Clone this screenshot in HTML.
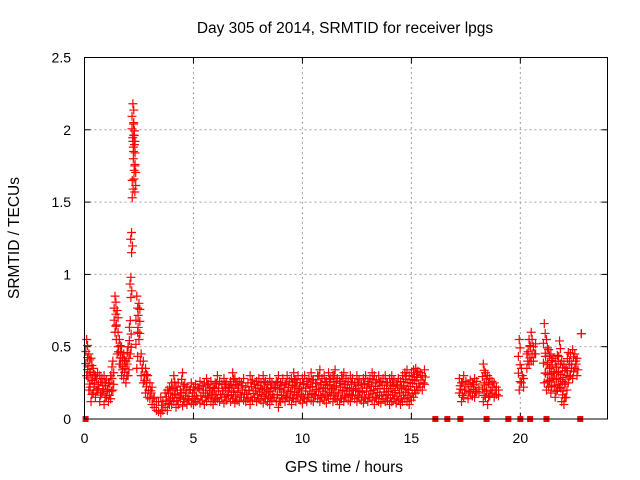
<!DOCTYPE html>
<html><head><meta charset="utf-8"><style>
html,body{margin:0;padding:0;background:#fff;}
svg{display:block;font-family:"Liberation Sans",sans-serif;}
</style></head><body>
<svg id="chart" width="640" height="480" viewBox="0 0 640 480" xmlns="http://www.w3.org/2000/svg">
<rect width="640" height="480" fill="#fff"/>
<text x="345" y="33" font-size="15.5" text-anchor="middle" fill="#000">Day 305 of 2014, SRMTID for receiver lpgs</text>
<g id="grid"></g>
<g id="ticks"></g>
<g id="marks"></g>
<rect x="84.5" y="57.5" width="523" height="361.5" fill="none" stroke="#000" stroke-width="1"/>
<text x="344" y="472" font-size="15.5" text-anchor="middle">GPS time / hours</text>
<text transform="translate(19,238) rotate(-90)" font-size="15.5" text-anchor="middle">SRMTID / TECUs</text>
</svg>
<script>
const xTicks=[0,5,10,15,20];
const yTicks=[0,0.5,1,1.5,2,2.5];
const yTickLabels=["0","0.5","1","1.5","2","2.5"];
const hours=[0.1,0.2,0.3,0.4,0.5,0.6,0.7,0.8,0.9,1.0,1.1,1.2,1.3,
1.4,1.5,1.6,1.7,1.8,1.9,2.0,
2.1,2.13,2.16,2.19,2.22,2.25,2.28,2.31,
2.4,2.5,2.6,2.7,2.8,2.9,3.0,3.1,3.2,3.3,
3.4,3.5,3.6,3.7,3.8,3.9,4.0,
4.1,4.2,4.3,4.4,4.5,4.6,4.7,4.8,4.9,5.0,
5.1,5.2,5.3,5.4,5.5,5.6,5.7,5.8,5.9,6.0,
6.1,6.2,6.3,6.4,6.5,6.6,6.7,6.8,6.9,7.0,
7.1,7.2,7.3,7.4,7.5,7.6,7.7,7.8,7.9,8.0,
8.1,8.2,8.3,8.4,8.5,8.6,8.7,8.8,8.9,9.0,
9.1,9.2,9.3,9.4,9.5,9.6,9.7,9.8,9.9,10.0,
10.1,10.2,10.3,10.4,10.5,10.6,10.7,10.8,10.9,11.0,
11.1,11.2,11.3,11.4,11.5,11.6,11.7,11.8,11.9,12.0,
12.1,12.2,12.3,12.4,12.5,12.6,12.7,12.8,12.9,13.0,
13.1,13.2,13.3,13.4,13.5,13.6,13.7,13.8,13.9,14.0,
14.1,14.2,14.3,14.4,14.5,14.6,14.7,14.8,14.9,15.0,
15.1,15.2,15.3,15.4,15.5,15.6,
17.2,17.3,17.4,17.5,17.6,17.7,17.8,17.9,18.0,18.1,
18.3,18.4,18.5,18.6,18.7,18.8,18.9,19.0,
19.95,20.05,20.15,
20.3,20.4,20.5,20.6,20.7,
21.1,21.2,21.3,21.4,21.5,21.6,21.7,21.8,21.9,22.0,22.1,22.2,22.3,22.4,22.5,22.6,
22.8];
const tecHigh=[0.55,0.45,0.42,0.35,0.30,0.32,0.30,0.28,0.30,0.27,0.25,0.30,0.40,
0.85,0.75,0.55,0.50,0.45,0.40,0.50,
0.68,0.98,1.29,1.65,2.18,2.04,1.96,1.75,
0.85,0.80,0.45,0.40,0.35,0.30,0.25,0.22,0.15,0.12,
0.12,0.15,0.12,0.18,0.20,0.22,0.25,
0.30,0.22,0.25,0.20,0.32,0.24,0.22,0.20,0.25,0.22,
0.24,0.22,0.26,0.23,0.25,0.28,0.24,0.26,0.22,0.25,
0.30,0.26,0.24,0.28,0.25,0.22,0.26,0.32,0.28,0.24,
0.26,0.25,0.28,0.22,0.25,0.30,0.27,0.24,0.26,0.28,
0.25,0.30,0.26,0.24,0.28,0.25,0.22,0.26,0.30,0.25,
0.28,0.24,0.30,0.26,0.28,0.32,0.27,0.30,0.25,0.28,
0.30,0.26,0.28,0.32,0.27,0.25,0.30,0.34,0.28,0.30,
0.26,0.32,0.28,0.30,0.34,0.28,0.26,0.30,0.32,0.28,
0.26,0.30,0.28,0.25,0.30,0.27,0.24,0.28,0.30,0.26,
0.28,0.32,0.30,0.27,0.30,0.26,0.28,0.30,0.25,0.28,
0.30,0.27,0.24,0.28,0.26,0.30,0.32,0.34,0.30,0.32,
0.34,0.35,0.33,0.32,0.30,0.34,
0.28,0.25,0.30,0.26,0.24,0.27,0.25,0.28,0.26,0.22,
0.38,0.32,0.30,0.28,0.26,0.25,0.22,0.20,
0.55,0.35,0.28,
0.45,0.55,0.60,0.50,0.52,
0.66,0.55,0.48,0.45,0.42,0.40,0.44,0.54,0.40,0.38,0.35,0.46,0.45,0.48,0.45,0.42,
0.59];
const tecLow=[0.30,0.20,0.12,0.18,0.15,0.20,0.12,0.18,0.10,0.15,0.12,0.14,0.20,
0.60,0.45,0.38,0.30,0.28,0.25,0.30,
0.45,0.84,1.15,1.53,1.92,1.85,1.72,1.57,
0.35,0.55,0.30,0.25,0.18,0.15,0.14,0.10,0.08,0.06,
0.05,0.04,0.06,0.08,0.06,0.10,0.10,
0.12,0.08,0.10,0.14,0.09,0.12,0.10,0.13,0.11,0.10,
0.12,0.14,0.11,0.13,0.10,0.12,0.15,0.12,0.10,0.13,
0.14,0.12,0.15,0.11,0.13,0.16,0.12,0.14,0.11,0.13,
0.12,0.15,0.13,0.12,0.14,0.10,0.13,0.15,0.12,0.14,
0.13,0.11,0.14,0.12,0.10,0.13,0.15,0.12,0.08,0.12,
0.14,0.12,0.15,0.13,0.10,0.14,0.12,0.16,0.13,0.11,
0.14,0.12,0.15,0.13,0.12,0.16,0.14,0.12,0.15,0.13,
0.11,0.14,0.16,0.12,0.14,0.13,0.10,0.14,0.12,0.15,
0.13,0.12,0.16,0.14,0.12,0.15,0.13,0.11,0.14,0.12,
0.15,0.13,0.10,0.14,0.12,0.11,0.14,0.12,0.13,0.10,
0.12,0.14,0.11,0.13,0.10,0.12,0.14,0.12,0.10,0.13,
0.15,0.18,0.20,0.22,0.20,0.24,
0.18,0.12,0.15,0.20,0.14,0.18,0.16,0.15,0.19,0.18,
0.12,0.15,0.10,0.16,0.18,0.15,0.17,0.16,
0.20,0.25,0.22,
0.35,0.38,0.40,0.40,0.45,
0.25,0.20,0.22,0.18,0.28,0.15,0.20,0.22,0.12,0.10,0.15,0.25,0.30,0.28,0.35,0.30,
0.59];
const zeroHours=[0.05,16.1,16.65,17.25,18.45,19.45,20.0,20.45,21.2,22.75];

const NS="http://www.w3.org/2000/svg";
const X0=84.5,X1=607.5,Y0=419,Y1=57.5,XMAX=24,YMAX=2.5;
function xs(v){return X0+(X1-X0)*v/XMAX;}
function ys(v){return Y0-(Y0-Y1)*v/YMAX;}
function mk(tag,attrs,parent){const e=document.createElementNS(NS,tag);for(const k in attrs)e.setAttribute(k,attrs[k]);parent.appendChild(e);return e;}
const grid=document.getElementById('grid'),ticks=document.getElementById('ticks'),marks=document.getElementById('marks');
xTicks.forEach(function(t){
  const x=xs(t);
  if(t>0){const g=mk('line',{x1:x,x2:x,y1:Y0,y2:Y1,stroke:'#a0a0a0','stroke-dasharray':'2,3'},grid);
  
  }
  mk('line',{x1:x,x2:x,y1:Y0,y2:Y0-6,stroke:'#000'},ticks);
  mk('line',{x1:x,x2:x,y1:Y1,y2:Y1+6,stroke:'#000'},ticks);
  const l=mk('text',{x:x,y:443,'font-size':14,'text-anchor':'middle'},ticks);
  l.textContent=String(t);
  
  
});
yTicks.forEach(function(t,i){
  const y=ys(t);
  if(t>0&&t<YMAX){const g=mk('line',{x1:X0,x2:X1,y1:y,y2:y,stroke:'#a0a0a0','stroke-dasharray':'2,3'},grid);
  
  }
  mk('line',{x1:X0,x2:X0+6,y1:y,y2:y,stroke:'#000'},ticks);
  mk('line',{x1:X1,x2:X1-6,y1:y,y2:y,stroke:'#000'},ticks);
  const l=mk('text',{x:71,y:y+5,'font-size':14,'text-anchor':'end'},ticks);
  l.textContent=yTickLabels[i];
  
  
});
function plus(h,v){
  const x=xs(h),y=ys(v);
  const p=mk('path',{d:'M'+(x-4.5)+' '+y+'H'+(x+4.5)+'M'+x+' '+(y-4.5)+'V'+(y+4.5),stroke:'#ff0000','stroke-width':1.2,fill:'none'},marks);
  
  
}
hours.forEach(function(h,i){
  const hi=tecHigh[i],lo=tecLow[i];
  plus(h,hi);plus(h,lo);
  const n=Math.min(6,Math.max(0,Math.floor((hi-lo)/0.04)));
  for(let k=1;k<n;k++){plus(h+((k%2)?0.04:-0.04),lo+(hi-lo)*k/n);}
});
zeroHours.forEach(function(h){
  const r=mk('rect',{x:xs(h)-3,y:Y0-3,width:6,height:6,fill:'#ff0000'},marks);
  
  
});
</script>
</body></html>
